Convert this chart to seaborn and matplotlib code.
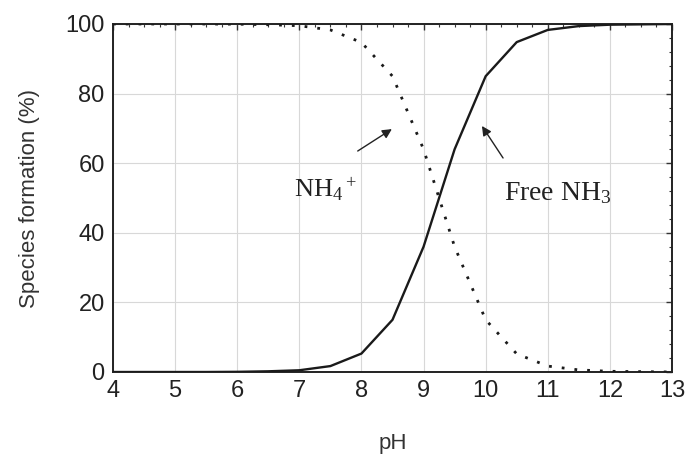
import matplotlib
matplotlib.use("Agg")
import matplotlib.pyplot as plt
import seaborn as sns
import pandas as pd
from matplotlib.ticker import MultipleLocator

ph = [4.0, 4.5, 5.0, 5.5, 6.0, 6.5, 7.0, 7.5, 8.0, 8.5, 9.0, 9.5,
      10.0, 10.5, 11.0, 11.5, 12.0, 12.5, 13.0]
free_nh3 = [0.0, 0.0, 0.0, 0.0, 0.05, 0.2, 0.5, 1.7, 5.3, 15.0, 36.0, 64.0,
            85.0, 94.8, 98.3, 99.4, 99.8, 99.9, 100.0]
nh4 = [100.0, 100.0, 100.0, 100.0, 99.95, 99.8, 99.5, 98.3, 94.7, 85.0, 64.0, 36.0,
       15.0, 5.2, 1.7, 0.6, 0.2, 0.1, 0.0]

xticks = [4, 5, 6, 7, 8, 9, 10, 11, 12, 13]
yticks = [0, 20, 40, 60, 80, 100]

sns.set_style("white")
plt.rcParams['font.family'] = ['Liberation Sans', 'DejaVu Sans']
plt.rcParams['mathtext.fontset'] = 'custom'
plt.rcParams['mathtext.rm'] = 'Liberation Serif'
plt.rcParams['mathtext.it'] = 'Liberation Serif:italic'

df = pd.DataFrame({"pH": ph, "NH3": free_nh3, "NH4": nh4})

fig = plt.figure(figsize=(6.88, 4.57), dpi=100)
ax = fig.add_axes([113/688, 1 - 372/457, (672-113)/688, (372-24)/457])

sns.lineplot(data=df, x="pH", y="NH3", ax=ax, color="#1a1a1a", linewidth=1.7, zorder=3)
sns.lineplot(data=df, x="pH", y="NH4", ax=ax, color="#1a1a1a", linewidth=2.0,
             linestyle=(0, (1.0, 3.6)), zorder=3)

ax.set_xlim(4, 13)
ax.set_ylim(0, 100)
ax.set_xticks(xticks)
ax.set_yticks(yticks)
ax.xaxis.set_minor_locator(MultipleLocator(0.25))
ax.yaxis.set_minor_locator(MultipleLocator(4))
ax.tick_params(which='both', direction='in', top=True, right=True, color='#333333')
ax.tick_params(which='major', length=4, width=1.0, labelsize=17, pad=6, labelcolor='#222222')
ax.tick_params(which='minor', length=2.5, width=0.8)
ax.grid(True, which='major', color='#d8d8d8', linewidth=0.8)
ax.set_axisbelow(True)
for s in ax.spines.values():
    s.set_color('#222222')
    s.set_linewidth(1.4)

ax.set_xlabel("pH", fontsize=16, color='#333333', labelpad=22)
ax.set_ylabel("Species formation (%)", fontsize=16, color='#333333', labelpad=18)

ax.text(6.92, 52.5, r'$\mathrm{NH_4{}^+}$', fontsize=19, color='#222222', va='center', ha='left')
ax.text(10.3, 51.5, r'Free NH$_3$', fontsize=20, color='#222222', va='center', ha='left',
        family='Liberation Serif')

ax.annotate("", xy=(8.49, 69.8), xytext=(7.94, 63.5),
            arrowprops=dict(arrowstyle='-|>', color='#222222', lw=1.0, mutation_scale=14,
                            shrinkA=0, shrinkB=0))
ax.annotate("", xy=(9.94, 70.7), xytext=(10.28, 61.5),
            arrowprops=dict(arrowstyle='-|>', color='#222222', lw=1.0, mutation_scale=14,
                            shrinkA=0, shrinkB=0))

fig.savefig("out.png", dpi=100)
